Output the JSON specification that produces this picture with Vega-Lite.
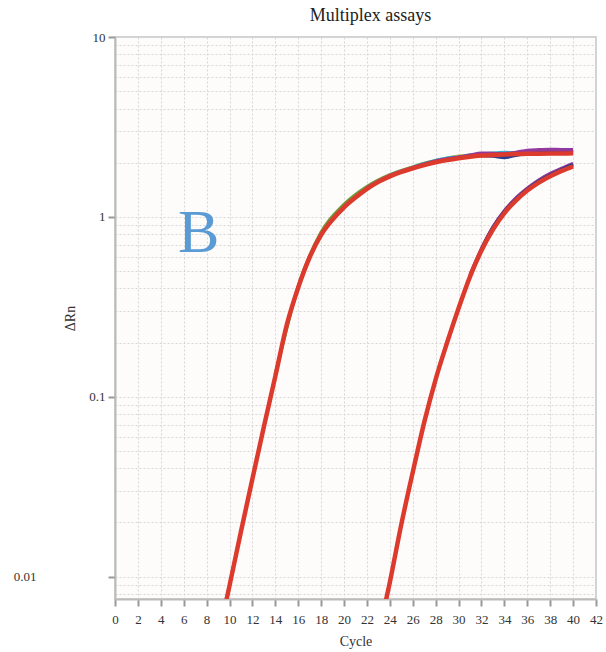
{
  "$schema": "https://vega.github.io/schema/vega-lite/v6.json",
  "width": 481,
  "height": 562,
  "autosize": "none",
  "padding": {"left": 115, "top": 37, "right": 10, "bottom": 53},
  "background": "white",
  "title": {"text": "Multiplex assays", "font": "Liberation Serif", "fontSize": 18, "fontWeight": "normal", "color": "#222", "offset": 6, "dx": 15},
  "config": {
    "view": {"fill": "#fdfcfa", "stroke": "#d2d2d2", "strokeWidth": 2},
    "axis": {"labelFont": "Liberation Serif", "titleFont": "Liberation Serif", "labelColor": "#333", "titleColor": "#333", "titleFontWeight": "normal", "domainColor": "#bbb", "domainWidth": 2, "tickColor": "#999", "tickWidth": 2, "gridColor": "#d6d6d6", "gridDash": [2, 2], "gridWidth": 1}
  },
  "data": {"values": [
    {"c": 9, "v": 0.0045, "s": "r1"}, {"c": 10, "v": 0.0089, "s": "r1"}, {"c": 11, "v": 0.0178, "s": "r1"}, {"c": 12, "v": 0.035, "s": "r1"}, {"c": 13, "v": 0.068, "s": "r1"}, {"c": 14, "v": 0.13, "s": "r1"}, {"c": 15, "v": 0.251, "s": "r1"}, {"c": 16, "v": 0.405, "s": "r1"}, {"c": 17, "v": 0.596, "s": "r1"}, {"c": 18, "v": 0.794, "s": "r1"}, {"c": 19, "v": 0.966, "s": "r1"}, {"c": 20, "v": 1.13, "s": "r1"}, {"c": 21, "v": 1.28, "s": "r1"}, {"c": 22, "v": 1.43, "s": "r1"}, {"c": 23, "v": 1.565, "s": "r1"}, {"c": 24, "v": 1.679, "s": "r1"}, {"c": 25, "v": 1.778, "s": "r1"}, {"c": 26, "v": 1.862, "s": "r1"}, {"c": 27, "v": 1.94, "s": "r1"}, {"c": 28, "v": 2.01, "s": "r1"}, {"c": 29, "v": 2.07, "s": "r1"}, {"c": 30, "v": 2.12, "s": "r1"}, {"c": 31, "v": 2.16, "s": "r1"}, {"c": 32, "v": 2.19, "s": "r1"}, {"c": 33, "v": 2.21, "s": "r1"}, {"c": 34, "v": 2.225, "s": "r1"}, {"c": 35, "v": 2.235, "s": "r1"}, {"c": 36, "v": 2.24, "s": "r1"}, {"c": 37, "v": 2.245, "s": "r1"}, {"c": 38, "v": 2.249, "s": "r1"}, {"c": 39, "v": 2.252, "s": "r1"}, {"c": 40, "v": 2.255, "s": "r1"},

    {"c": 14, "v": 0.133, "s": "g1"}, {"c": 16, "v": 0.41, "s": "g1"}, {"c": 18, "v": 0.82, "s": "g1"}, {"c": 20, "v": 1.17, "s": "g1"}, {"c": 22, "v": 1.47, "s": "g1"}, {"c": 24, "v": 1.71, "s": "g1"}, {"c": 26, "v": 1.89, "s": "g1"}, {"c": 27, "v": 1.98, "s": "g1"}, {"c": 28, "v": 2.05, "s": "g1"}, {"c": 30, "v": 2.15, "s": "g1"}, {"c": 32, "v": 2.21, "s": "g1"}, {"c": 34, "v": 2.24, "s": "g1"}, {"c": 36, "v": 2.26, "s": "g1"}, {"c": 38, "v": 2.27, "s": "g1"}, {"c": 40, "v": 2.27, "s": "g1"},

    {"c": 22, "v": 1.44, "s": "y1"}, {"c": 24, "v": 1.69, "s": "y1"}, {"c": 26, "v": 1.88, "s": "y1"}, {"c": 28, "v": 2.03, "s": "y1"}, {"c": 30, "v": 2.17, "s": "y1"}, {"c": 31, "v": 2.2, "s": "y1"}, {"c": 32, "v": 2.22, "s": "y1"}, {"c": 33, "v": 2.23, "s": "y1"}, {"c": 35, "v": 2.25, "s": "y1"}, {"c": 37, "v": 2.27, "s": "y1"}, {"c": 40, "v": 2.28, "s": "y1"},

    {"c": 24, "v": 1.7, "s": "c1"}, {"c": 26, "v": 1.88, "s": "c1"}, {"c": 28, "v": 2.05, "s": "c1"}, {"c": 29, "v": 2.12, "s": "c1"}, {"c": 30, "v": 2.15, "s": "c1"}, {"c": 31, "v": 2.2, "s": "c1"}, {"c": 32, "v": 2.22, "s": "c1"}, {"c": 33, "v": 2.26, "s": "c1"}, {"c": 34, "v": 2.28, "s": "c1"}, {"c": 35, "v": 2.27, "s": "c1"}, {"c": 36, "v": 2.28, "s": "c1"}, {"c": 38, "v": 2.29, "s": "c1"}, {"c": 40, "v": 2.3, "s": "c1"},

    {"c": 26, "v": 1.87, "s": "b1"}, {"c": 28, "v": 2.03, "s": "b1"}, {"c": 30, "v": 2.14, "s": "b1"}, {"c": 32, "v": 2.19, "s": "b1"}, {"c": 33, "v": 2.18, "s": "b1"}, {"c": 34, "v": 2.14, "s": "b1"}, {"c": 35, "v": 2.2, "s": "b1"}, {"c": 36, "v": 2.26, "s": "b1"}, {"c": 38, "v": 2.3, "s": "b1"}, {"c": 40, "v": 2.31, "s": "b1"},

    {"c": 22, "v": 1.45, "s": "p1"}, {"c": 24, "v": 1.69, "s": "p1"}, {"c": 26, "v": 1.87, "s": "p1"}, {"c": 28, "v": 2.04, "s": "p1"}, {"c": 30, "v": 2.14, "s": "p1"}, {"c": 31, "v": 2.2, "s": "p1"}, {"c": 32, "v": 2.26, "s": "p1"}, {"c": 33, "v": 2.25, "s": "p1"}, {"c": 34, "v": 2.24, "s": "p1"}, {"c": 35, "v": 2.28, "s": "p1"}, {"c": 36, "v": 2.34, "s": "p1"}, {"c": 37, "v": 2.36, "s": "p1"}, {"c": 38, "v": 2.37, "s": "p1"}, {"c": 39, "v": 2.36, "s": "p1"}, {"c": 40, "v": 2.36, "s": "p1"},

    {"c": 23, "v": 0.0047, "s": "r2"}, {"c": 24, "v": 0.0093, "s": "r2"}, {"c": 25, "v": 0.0195, "s": "r2"}, {"c": 26, "v": 0.038, "s": "r2"}, {"c": 27, "v": 0.072, "s": "r2"}, {"c": 28, "v": 0.125, "s": "r2"}, {"c": 29, "v": 0.2, "s": "r2"}, {"c": 30, "v": 0.31, "s": "r2"}, {"c": 31, "v": 0.465, "s": "r2"}, {"c": 32, "v": 0.65, "s": "r2"}, {"c": 33, "v": 0.85, "s": "r2"}, {"c": 34, "v": 1.05, "s": "r2"}, {"c": 35, "v": 1.23, "s": "r2"}, {"c": 36, "v": 1.4, "s": "r2"}, {"c": 37, "v": 1.55, "s": "r2"}, {"c": 38, "v": 1.68, "s": "r2"}, {"c": 39, "v": 1.8, "s": "r2"}, {"c": 40, "v": 1.91, "s": "r2"},

    {"c": 31, "v": 0.475, "s": "p2"}, {"c": 32, "v": 0.665, "s": "p2"}, {"c": 33, "v": 0.875, "s": "p2"}, {"c": 34, "v": 1.08, "s": "p2"}, {"c": 35, "v": 1.27, "s": "p2"}, {"c": 36, "v": 1.44, "s": "p2"}, {"c": 37, "v": 1.6, "s": "p2"}, {"c": 38, "v": 1.74, "s": "p2"}, {"c": 39, "v": 1.86, "s": "p2"}, {"c": 40, "v": 1.98, "s": "p2"},

    {"c": 32, "v": 0.66, "s": "b2"}, {"c": 33, "v": 0.87, "s": "b2"}, {"c": 34, "v": 1.07, "s": "b2"}, {"c": 35, "v": 1.25, "s": "b2"}, {"c": 36, "v": 1.42, "s": "b2"}, {"c": 37, "v": 1.58, "s": "b2"}, {"c": 38, "v": 1.71, "s": "b2"}, {"c": 39, "v": 1.83, "s": "b2"}, {"c": 40, "v": 1.95, "s": "b2"}
  ]},
  "encoding": {
    "x": {"field": "c", "type": "quantitative", "title": "Cycle",
      "scale": {"domain": [0, 42], "nice": false, "zero": false},
      "axis": {"values": [0, 2, 4, 6, 8, 10, 12, 14, 16, 18, 20, 22, 24, 26, 28, 30, 32, 34, 36, 38, 40, 42], "labelFontSize": 13, "titleFontSize": 14, "tickSize": 7, "labelPadding": 7, "titlePadding": 8, "labelFlush": false}},
    "y": {"field": "v", "type": "quantitative", "title": "ΔRn",
      "scale": {"type": "log", "domain": [0.0075, 10], "nice": false},
      "axis": {"values": [0.008, 0.009, 0.01, 0.02, 0.03, 0.04, 0.05, 0.06, 0.07, 0.08, 0.09, 0.1, 0.2, 0.3, 0.4, 0.5, 0.6, 0.7, 0.8, 0.9, 1, 2, 3, 4, 5, 6, 7, 8, 9, 10],
        "format": "~g",
        "labelExpr": "indexof(['0.01','0.1','1','10'], datum.label) >= 0 ? datum.label : ''",
        "tickSize": 7,
        "tickOpacity": {"condition": {"test": "indexof([0.01, 0.1, 1, 10], datum.value) >= 0", "value": 1}, "value": 0},
        "labelPadding": {"condition": {"test": "datum.value == 0.01", "value": 72}, "value": 3},
        "labelFontSize": 13, "titleFontSize": 14, "titleX": -38, "titleY": 281, "labelFlush": false}}
  },
  "layer": [
    {
      "transform": [{"filter": "datum.s != 'r1' && datum.s != 'r2'"}],
      "mark": {"type": "line", "strokeWidth": 3.5, "clip": true, "interpolate": "monotone"},
      "encoding": {
        "detail": {"field": "s"},
        "color": {"field": "s", "type": "nominal", "legend": null,
          "scale": {"domain": ["g1", "y1", "c1", "b1", "p1", "p2", "b2"], "range": ["#6f9a3c", "#d9b13a", "#3aaecb", "#2c3e8f", "#93389c", "#93389c", "#2c3e8f"]}}
      }
    },
    {
      "transform": [{"filter": "datum.s == 'r1' || datum.s == 'r2'"}],
      "mark": {"type": "line", "strokeWidth": 4.5, "clip": true, "color": "#dc3a2c", "interpolate": "monotone"},
      "encoding": {"detail": {"field": "s"}}
    },
    {
      "data": {"values": [{"c": 7.3, "v": 0.64, "t": "B"}]},
      "mark": {"type": "text", "font": "Liberation Serif", "fontSize": 62, "color": "#5b9bd5", "baseline": "alphabetic", "align": "center"},
      "encoding": {"text": {"field": "t"}}
    }
  ]
}
